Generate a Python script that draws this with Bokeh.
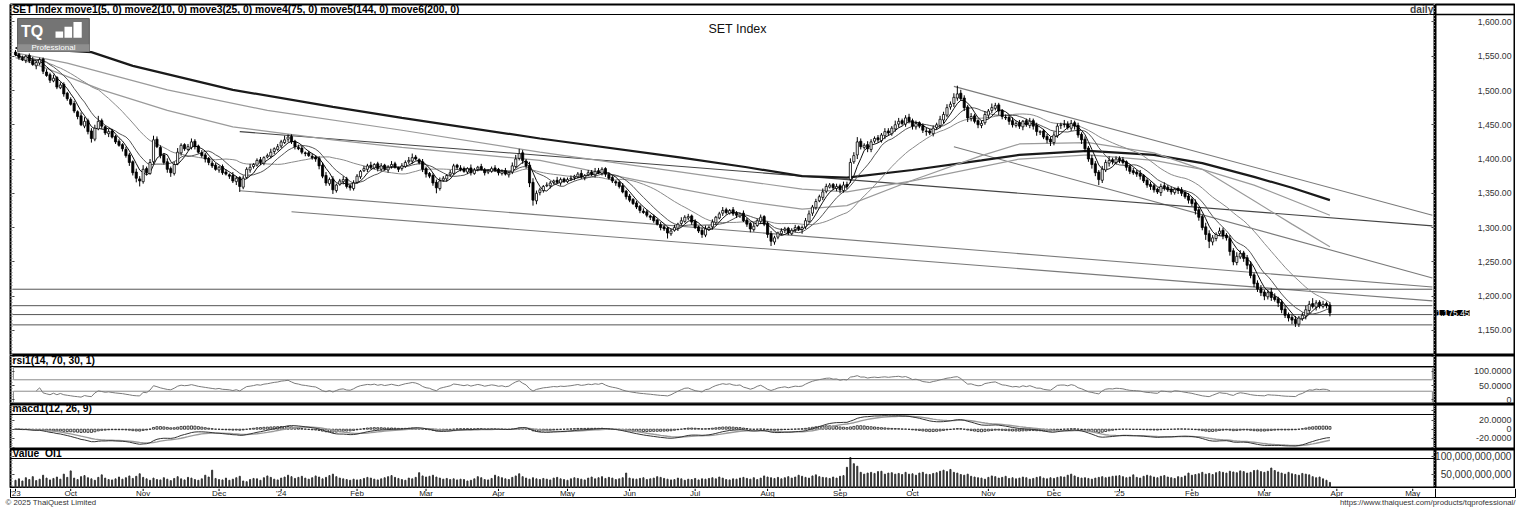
import numpy as np
import pandas as pd
from bokeh.plotting import figure
from bokeh.layouts import column, row
from bokeh.models import (Range1d, ColumnDataSource, SingleIntervalTicker,
                          LinearAxis, Span, Label, BoxAnnotation, CustomJSTickFormatter)
from bokeh.core.properties import value
from bokeh.embed import file_html
from bokeh.resources import INLINE

FONT = "Liberation Sans"

# ---------------- data ----------------
closes = [
    1552, 1548, 1545, 1550, 1543, 1538, 1541, 1545, 1528, 1522,
    1515, 1518, 1505, 1508, 1495, 1488, 1480, 1470, 1462, 1450,
    1455, 1440, 1430, 1445, 1455, 1448, 1438, 1440, 1432, 1425,
    1420, 1415, 1405, 1395, 1380, 1372, 1368, 1385, 1380, 1395,
    1428, 1418, 1405, 1395, 1385, 1380, 1392, 1410, 1420, 1415,
    1418, 1425, 1418, 1410, 1405, 1400, 1395, 1390, 1385, 1388,
    1380, 1378, 1375, 1368, 1372, 1360, 1372, 1385, 1388, 1392,
    1398, 1395, 1402, 1405, 1410, 1415, 1418, 1425, 1428, 1432,
    1425, 1418, 1415, 1410, 1408, 1405, 1402, 1400, 1390, 1375,
    1365, 1370, 1355, 1362, 1368, 1370, 1360, 1358, 1365, 1375,
    1382, 1386, 1390, 1388, 1392, 1386, 1390, 1385, 1388, 1392,
    1388, 1385, 1390, 1395, 1398, 1402, 1400, 1395, 1385, 1378,
    1375, 1365, 1358, 1368, 1372, 1376, 1380, 1390, 1388, 1385,
    1382, 1386, 1380, 1384, 1388, 1385, 1380, 1383, 1386, 1384,
    1380, 1382, 1378, 1380, 1390, 1400, 1408, 1398, 1390, 1365,
    1340, 1350, 1355, 1360, 1362, 1365, 1368, 1366, 1370, 1368,
    1370, 1372, 1375, 1378, 1374, 1376, 1380, 1378, 1382, 1380,
    1385, 1378, 1372, 1368, 1365, 1360, 1352, 1345, 1340, 1335,
    1330, 1325, 1322, 1318, 1315, 1310, 1305, 1300, 1298, 1292,
    1295, 1300, 1305, 1310, 1315, 1316, 1308, 1300, 1295, 1290,
    1298, 1300, 1308, 1315, 1320, 1325, 1322, 1325, 1320, 1318,
    1320, 1310, 1305, 1298, 1302, 1310, 1315, 1305, 1290, 1280,
    1285, 1292, 1295, 1298, 1292, 1296, 1300, 1298, 1300, 1310,
    1320, 1330, 1338, 1345, 1352, 1360, 1362, 1358, 1360, 1355,
    1362, 1360, 1395, 1405, 1425, 1418, 1420, 1415, 1425, 1430,
    1428, 1435, 1440, 1438, 1445, 1450, 1455, 1452, 1460, 1455,
    1448, 1452, 1448, 1442, 1440, 1438, 1445, 1450, 1458, 1465,
    1475, 1480, 1490, 1495, 1488, 1475, 1460, 1462, 1455, 1450,
    1452, 1465, 1470, 1475, 1478, 1470, 1462, 1460, 1455, 1450,
    1452, 1448, 1455, 1450, 1455, 1448, 1440, 1440, 1432, 1428,
    1425, 1435, 1448, 1450, 1450, 1446, 1452, 1448, 1435, 1428,
    1415, 1400, 1392, 1380, 1370, 1385, 1395, 1398, 1396, 1400,
    1398, 1395, 1388, 1382, 1380, 1378, 1375, 1368, 1362, 1360,
    1355, 1352, 1360, 1358, 1355, 1352, 1356, 1354, 1350, 1345,
    1340, 1335, 1325, 1315, 1300, 1290, 1280, 1285, 1290, 1295,
    1288, 1285, 1265, 1250, 1258, 1262, 1255, 1245, 1230, 1218,
    1210, 1205, 1200, 1205, 1198, 1195, 1190, 1180, 1172, 1168,
    1165, 1160, 1168, 1172, 1180, 1188, 1185, 1190, 1186, 1188,
    1186, 1175.45,
]
opens = [
    1556, 1553, 1547, 1544, 1551, 1544, 1536, 1540, 1546, 1527,
    1523, 1514, 1519, 1504, 1509, 1496, 1487, 1481, 1469, 1463,
    1448, 1456, 1441, 1429, 1444, 1456, 1447, 1437, 1441, 1433,
    1426, 1421, 1414, 1406, 1396, 1381, 1371, 1367, 1386, 1379,
    1396, 1429, 1417, 1406, 1396, 1386, 1379, 1393, 1409, 1421,
    1414, 1417, 1426, 1419, 1409, 1406, 1401, 1394, 1391, 1384,
    1389, 1381, 1377, 1376, 1367, 1373, 1359, 1373, 1384, 1389,
    1391, 1399, 1394, 1403, 1404, 1411, 1414, 1419, 1424, 1429,
    1433, 1426, 1417, 1416, 1409, 1409, 1404, 1403, 1401, 1391,
    1376, 1364, 1371, 1354, 1363, 1367, 1371, 1361, 1357, 1366,
    1374, 1383, 1385, 1391, 1387, 1393, 1385, 1391, 1384, 1389,
    1393, 1387, 1386, 1389, 1396, 1397, 1403, 1399, 1396, 1386,
    1379, 1376, 1366, 1357, 1369, 1371, 1377, 1379, 1391, 1387,
    1386, 1381, 1387, 1379, 1385, 1389, 1384, 1381, 1382, 1387,
    1385, 1379, 1383, 1377, 1381, 1389, 1401, 1409, 1397, 1391,
    1366, 1339, 1351, 1354, 1361, 1361, 1366, 1369, 1365, 1371,
    1367, 1371, 1373, 1374, 1379, 1373, 1377, 1381, 1377, 1383,
    1379, 1386, 1377, 1373, 1367, 1366, 1361, 1353, 1346, 1341,
    1336, 1331, 1324, 1323, 1317, 1316, 1311, 1304, 1301, 1299,
    1291, 1296, 1299, 1306, 1309, 1314, 1317, 1309, 1301, 1296,
    1289, 1297, 1301, 1307, 1314, 1321, 1326, 1321, 1326, 1321,
    1317, 1321, 1311, 1306, 1297, 1303, 1309, 1316, 1306, 1291,
    1279, 1286, 1291, 1296, 1299, 1291, 1297, 1301, 1297, 1301,
    1309, 1321, 1329, 1339, 1344, 1353, 1359, 1363, 1357, 1361,
    1354, 1363, 1370, 1396, 1406, 1426, 1417, 1421, 1414, 1426,
    1431, 1427, 1434, 1441, 1437, 1444, 1451, 1456, 1451, 1461,
    1456, 1447, 1453, 1449, 1441, 1441, 1437, 1446, 1449, 1457,
    1464, 1476, 1481, 1489, 1496, 1489, 1476, 1459, 1463, 1456,
    1449, 1453, 1464, 1471, 1474, 1479, 1471, 1461, 1461, 1456,
    1449, 1453, 1447, 1456, 1449, 1456, 1449, 1439, 1441, 1433,
    1429, 1424, 1434, 1449, 1451, 1451, 1445, 1453, 1449, 1436,
    1429, 1416, 1401, 1393, 1381, 1369, 1384, 1394, 1399, 1395,
    1401, 1399, 1396, 1389, 1383, 1381, 1379, 1376, 1369, 1363,
    1361, 1356, 1351, 1361, 1359, 1356, 1351, 1357, 1355, 1351,
    1346, 1341, 1336, 1326, 1316, 1301, 1291, 1279, 1284, 1291,
    1296, 1289, 1284, 1266, 1249, 1257, 1263, 1256, 1246, 1231,
    1219, 1211, 1206, 1199, 1206, 1199, 1196, 1191, 1181, 1173,
    1169, 1166, 1159, 1167, 1171, 1179, 1189, 1184, 1191, 1185,
    1189, 1187,
]
up_wick = [
    3, 2, 4, 2, 3, 5, 2, 3, 2, 4,   3, 5, 2, 4, 3, 2, 3, 4, 2, 5,
    6, 3, 4, 5, 8, 3, 2, 4, 3, 2,   3, 2, 4, 3, 2, 5, 4, 6, 3, 5,
    6, 4, 3, 2, 5, 3, 4, 6, 3, 2,   4, 5, 3, 2, 4, 3, 2, 4, 3, 2,
    3, 4, 2, 5, 3, 2, 4, 3, 5, 2,   3, 4, 2, 3, 5, 2, 4, 3, 6, 4,
    3, 2, 4, 3, 2, 3, 4, 2, 3, 4,   5, 3, 4, 2, 3, 5, 3, 2, 4, 3,
    2, 4, 3, 5, 2, 3, 4, 2, 3, 5,   3, 2, 4, 3, 5, 6, 3, 2, 4, 3,
    2, 3, 4, 5, 3, 2, 4, 3, 2, 4,   3, 2, 5, 3, 2, 4, 3, 2, 3, 4,
    2, 3, 4, 2, 5, 6, 7, 4, 3, 5,   6, 4, 3, 2, 4, 3, 2, 5, 3, 2,
    3, 4, 2, 3, 5, 2, 4, 3, 5, 4,   3, 2, 4, 3, 2, 3, 4, 2, 3, 2,
    3, 2, 4, 3, 2, 3, 2, 4, 3, 2,   3, 4, 2, 5, 3, 4, 2, 3, 2, 4,
    5, 3, 4, 2, 3, 5, 3, 2, 4, 3,   2, 4, 3, 2, 5, 3, 4, 2, 3, 4,
    3, 2, 4, 3, 2, 3, 4, 2, 3, 4,   5, 3, 4, 3, 5, 4, 3, 2, 4, 3,
    5, 4, 6, 5, 7, 4, 3, 5, 4, 3,   4, 3, 5, 4, 3, 6, 5, 3, 4, 5,
    3, 4, 2, 3, 5, 3, 4, 3, 5, 4,   5, 4, 6, 12, 5, 4, 3, 5, 3, 2,
    4, 5, 3, 6, 4, 3, 2, 4, 3, 5,   3, 4, 2, 3, 5, 3, 4, 2, 3, 4,
    3, 5, 4, 3, 6, 4, 5, 3, 4, 3,   4, 3, 5, 4, 3, 5, 4, 6, 3, 4,
    3, 4, 2, 3, 4, 3, 5, 2, 3, 4,   3, 2, 4, 5, 3, 4, 2, 3, 4, 3,
    4, 3, 5, 4, 3, 6, 5, 4, 3, 5,   4, 3, 5, 4, 6, 5, 3, 4, 5, 3,
    4, 5, 3, 4, 6, 5, 3, 4, 5, 3,   4, 5, 3, 4, 6, 5, 8, 4, 3, 5,
    3, 4,
]
low_wick = [
    2, 3, 2, 4, 3, 2, 5, 3, 4, 2,   4, 2, 3, 2, 4, 3, 2, 3, 4, 2,
    3, 4, 6, 3, 2, 4, 3, 5, 2, 3,   2, 4, 3, 5, 4, 6, 8, 3, 4, 2,
    3, 2, 4, 3, 5, 6, 3, 2, 4, 3,   2, 3, 4, 2, 3, 5, 4, 3, 2, 4,
    3, 2, 4, 3, 5, 8, 3, 2, 4, 3,   2, 4, 3, 2, 3, 4, 2, 3, 2, 4,
    3, 4, 2, 3, 4, 2, 3, 4, 5, 3,   4, 3, 6, 3, 2, 4, 3, 4, 3, 2,
    3, 2, 4, 3, 2, 4, 3, 2, 4, 3,   2, 4, 3, 2, 3, 4, 2, 3, 4, 5,
    3, 4, 8, 3, 2, 4, 3, 2, 4, 3,   2, 3, 4, 2, 3, 2, 4, 3, 2, 3,
    4, 3, 2, 4, 3, 2, 3, 5, 4, 6,   8, 5, 4, 3, 2, 4, 3, 2, 4, 3,
    2, 3, 4, 2, 3, 4, 2, 3, 4, 2,   3, 4, 2, 3, 4, 3, 2, 4, 3, 2,
    3, 4, 2, 3, 4, 3, 2, 4, 3, 8,   3, 2, 4, 3, 2, 3, 4, 2, 3, 5,
    3, 2, 4, 3, 2, 4, 3, 2, 3, 4,   3, 2, 4, 5, 3, 2, 4, 3, 5, 7,
    4, 3, 2, 4, 3, 2, 4, 3, 6, 3,   2, 4, 3, 2, 4, 3, 2, 3, 4, 5,
    3, 4, 5, 3, 6, 4, 3, 5, 4, 3,   4, 3, 5, 4, 3, 4, 5, 3, 4, 3,
    5, 4, 3, 4, 6, 3, 4, 3, 4, 5,   3, 4, 5, 4, 3, 5, 6, 4, 3, 5,
    4, 3, 5, 4, 3, 6, 4, 3, 5, 4,   3, 4, 5, 3, 4, 5, 6, 4, 3, 5,
    6, 4, 3, 5, 4, 3, 4, 5, 4, 6,   5, 4, 6, 5, 8, 4, 3, 5, 4, 3,
    4, 3, 5, 4, 3, 4, 5, 3, 4, 5,   4, 3, 5, 4, 3, 4, 3, 5, 4, 3,
    5, 4, 6, 5, 4, 8, 10, 5, 4, 3,  5, 4, 6, 5, 4, 3, 5, 6, 4, 5,
    4, 5, 6, 4, 5, 3, 6, 5, 4, 5,   6, 5, 4, 3, 5, 4, 3, 5, 4, 3,
    4, 5,
]
# traded value, billions of baht
value_bn = [
    34, 38, 32, 41, 36, 44, 33, 37, 48, 40,   35, 39, 43, 37, 51, 42, 60, 40, 36, 44,
    47, 41, 38, 34, 42, 49, 40, 36, 35, 38,   43, 37, 41, 46, 39, 45, 52, 42, 38, 34,
    40, 36, 35, 41, 37, 33, 39, 44, 38, 35,   42, 40, 36, 34, 38, 48, 43, 62, 39, 36,
    35, 40, 34, 37, 41, 45, 32, 30, 36, 39,   38, 34, 41, 46, 42, 37, 35, 40, 43, 48,
    44, 39, 42, 45, 40, 37, 41, 46, 43, 38,   42, 47, 51, 44, 40, 38, 36, 34, 37, 35,
    36, 39, 42, 40, 37, 35, 38, 41, 44, 47,   42, 39, 36, 34, 40, 38, 42, 55, 46, 43,
    45, 48, 43, 40, 37, 39, 36, 38, 35, 37,   36, 32, 34, 38, 44, 41, 36, 35, 39, 48,
    44, 41, 38, 36, 42, 46, 52, 44, 40, 37,   41, 38, 36, 39, 37, 35, 40, 42, 38, 36,
    34, 38, 41, 39, 37, 35, 40, 43, 38, 41,   44, 39, 42, 40, 36, 38, 41, 54, 40, 38,
    37, 39, 41, 36, 38, 40, 44, 42, 39, 37,   35, 36, 40, 38, 34, 37, 36, 39, 35, 38,
    37, 39, 41, 38, 43, 40, 36, 35, 38, 37,   40, 42, 39, 37, 41, 36, 40, 46, 43, 41,
    39, 42, 38, 41, 44, 40, 43, 48, 45, 42,   40, 46, 49, 44, 42, 41, 39, 43, 40, 45,
    47, 70, 97, 80, 73, 56, 51, 54, 56, 53,   58, 59, 51, 54, 55, 51, 53, 50, 56, 51,
    52, 48, 54, 56, 51, 50, 53, 55, 59, 62,   58, 64, 56, 54, 50, 48, 51, 45, 43, 41,
    40, 37, 42, 46, 44, 40, 42, 45, 39, 41,   38, 40, 43, 41, 37, 39, 42, 44, 40, 38,
    41, 39, 42, 44, 43, 48, 51, 46, 42, 40,   41, 39, 37, 40, 42, 44, 41, 43, 45, 46,
    47, 44, 41, 43, 49, 42, 40, 45, 48, 46,   43, 41, 45, 47, 43, 41, 39, 44, 42, 46,
    54, 48, 50, 52, 56, 51, 53, 50, 55, 58,   56, 54, 59, 57, 55, 60, 58, 54, 56, 61,
    62, 58, 56, 59, 68, 61, 57, 54, 51, 56,   52, 50, 48, 53, 51, 49, 44, 41, 43, 38,
    34, 28,
]
ma_periods = [5, 10, 25, 75, 144, 200]
# long moving averages (they need history before the window)
ma75_idx = [0, 5, 25, 44, 63, 92, 112, 152, 193, 212, 228, 241, 260, 280, 291, 311, 330, 344, 359, 370, 381]
ma75_val = [1548, 1540, 1501, 1471, 1447, 1428, 1417, 1398, 1356, 1338, 1327, 1332, 1369, 1405, 1422, 1424, 1409, 1385, 1339, 1305, 1272]
ma144_idx = [0, 15, 44, 73, 112, 152, 193, 228, 241, 260, 291, 311, 330, 344, 359, 381]
ma144_val = [1555, 1540, 1501, 1471, 1442, 1410, 1381, 1356, 1352, 1368, 1400, 1406, 1398, 1385, 1362, 1318]
ma200_idx = [0, 22, 34, 63, 92, 112, 152, 193, 212, 228, 241, 260, 280, 291, 311, 330, 344, 359, 370, 381]
ma200_val = [1562, 1556, 1536, 1501, 1476, 1460, 1430, 1402, 1388, 1375, 1373, 1384, 1398, 1406, 1412, 1406, 1394, 1374, 1358, 1340]
# drawn trend lines (start index, start price, end index, end price)
trend_x0 = [272, 272, 65, 65, 80]
trend_y0 = [1506, 1418, 1440, 1353.7, 1323]
trend_x1 = [410.7, 410.7, 410.7, 410.7, 410.7]
trend_y1 = [1318, 1226.5, 1302.5, 1213.3, 1193]
trend_col = ["#7a7a7a", "#7a7a7a", "#444444", "#7a7a7a", "#7a7a7a"]
h_levels = [1210, 1186, 1173, 1158]
month_idx = [0, 16, 37, 59, 77, 99, 119, 140, 160, 178, 197, 218, 239, 260, 282, 301, 320, 341, 362, 383, 405]
month_lbl = ["'23", "Oct", "Nov", "Dec", "'24", "Feb", "Mar", "Apr", "May", "Jun", "Jul", "Aug",
             "Sep", "Oct", "Nov", "Dec", "'25", "Feb", "Mar", "Apr", "May"]
price_ticks = [1150, 1200, 1250, 1300, 1350, 1400, 1450, 1500, 1550, 1600]
rsi_params = (14, 70, 30, 1)
rsi_ticks = [0, 50, 100]
rsi_tick_lbl = ["0", "50.0000", "100.0000"]
macd_params = (12, 26, 9)
macd_ticks = [-20, 0, 20]
macd_tick_lbl = ["-20.0000", "0", "20.0000"]
vol_ticks = [50e9, 100e9]
vol_tick_lbl = ["50,000,000,000", "100,000,000,000"]
footer_left = "\u00a9 2025 ThaiQuest Limited"
footer_right = "https://www.thaiquest.com/products/tqprofessional/"

n = len(closes)
assert len(opens) == n and len(up_wick) == n and len(low_wick) == n and len(value_bn) == n, \
    (n, len(opens), len(up_wick), len(low_wick), len(value_bn))

# ---------------- derived series ----------------
idx = np.arange(n)
c = np.array(closes, float)
o = np.array(opens, float)
body_top = np.maximum(o, c)
body_bot = np.minimum(o, c)
hi = body_top + np.array(up_wick)
lo = body_bot - np.array(low_wick)
s = pd.Series(c)
ma_short = {p: s.rolling(p, min_periods=1).mean().values for p in ma_periods[:3]}

delta = s.diff().fillna(0.0)
gain = delta.clip(lower=0)
loss = (-delta).clip(lower=0)
ag = gain.ewm(alpha=1.0 / rsi_params[0], adjust=True).mean()
al = loss.ewm(alpha=1.0 / rsi_params[0], adjust=True).mean()
rsi_all = (100 * ag / (ag + al)).values
RSI_START = 6
rsi_x = idx[RSI_START:]
rsi = rsi_all[RSI_START:]

ema_f = s.ewm(span=macd_params[0], adjust=False).mean()
ema_s = s.ewm(span=macd_params[1], adjust=False).mean()
macd = ema_f - ema_s
sig = macd.ewm(span=macd_params[2], adjust=False).mean()
hist = (macd - sig).values

# ---------------- layout helpers ----------------
FW = 1425
LW = 80
LB = 10
X0, X1 = -1.45, 411.6
xr = Range1d(X0, X1)
blank = CustomJSTickFormatter(code="return ''")


def panel(fh, yr, top=0):
    p = figure(frame_width=FW, frame_height=fh, x_range=xr, y_range=yr,
               x_axis_type=None, y_axis_type=None, output_backend="svg",
               toolbar_location=None, min_border_left=LB, min_border_right=0,
               min_border_top=top, min_border_bottom=0)
    p.outline_line_color = "black"
    p.outline_line_width = 2
    p.background_fill_color = "white"
    return p


def rulers(p, interval, minor):
    for side in ("left", "right"):
        ax = LinearAxis(ticker=SingleIntervalTicker(interval=interval, num_minor_ticks=minor),
                        formatter=blank, major_label_standoff=0,
                        major_tick_in=4, major_tick_out=0, minor_tick_in=2, minor_tick_out=0,
                        axis_line_color="black", major_tick_line_color="#444",
                        minor_tick_line_color="#888")
        p.add_layout(ax, side)


def lab_panel(fh, yr, top=0, outline=2):
    q = figure(frame_width=LW, frame_height=fh, x_range=Range1d(0, LW), y_range=yr,
               x_axis_type=None, y_axis_type=None, output_backend="svg",
               toolbar_location=None, min_border_left=0, min_border_right=0,
               min_border_top=top, min_border_bottom=0)
    q.outline_line_color = "black"
    q.outline_line_width = outline
    return q


def tick_text(q, ys, labels, size):
    q.text(x=[LW - 4] * len(ys), y=ys, text=labels, text_align="right", text_baseline="middle",
           text_font=value(FONT), text_font_size=size, text_color="#333333")


def header(p, y, text):
    p.add_layout(Label(x=-0.9, y=y, text=text, text_font=FONT, text_font_size="10.3px",
                       text_font_style="bold", text_baseline="middle", text_color="black"))


# ---------------- main price panel ----------------
P_TOP, P_BOT, P_HDR = 1625.5, 1113.3, 1610.9
yr_p = Range1d(P_BOT, P_TOP)
p = panel(351, yr_p, top=4)
rulers(p, 50, 10)

p.add_layout(Span(location=P_HDR, dimension="width", line_color="black", line_width=1))
header(p, 1618.2, "SET Index " + " ".join(f"move{k}({m}, 0)" for k, m in enumerate(ma_periods, 1)))
p.add_layout(Label(x=411.0, y=1618.2, text="daily", text_font=FONT, text_font_size="10.3px",
                   text_font_style="bold", text_align="right", text_baseline="middle"))
p.add_layout(Label(x=209.3, y=1589.1, text="SET Index", text_font=FONT, text_font_size="12.5px",
                   text_align="center", text_baseline="middle", text_color="#111111"))

# logo
p.add_layout(BoxAnnotation(left=0.6, right=21.4, bottom=1556.9, top=1605.1, fill_color="#747474",
                           fill_alpha=1.0, line_color="#5a5a5a", line_alpha=1.0))
p.add_layout(BoxAnnotation(left=0.6, right=21.4, bottom=1556.9, top=1567.5, fill_color="#8e8e8e",
                           fill_alpha=1.0, line_color=None))
p.add_layout(Label(x=1.6, y=1586, text="TQ", text_font=FONT, text_font_size="16px",
                   text_font_style="bold", text_color="white", text_baseline="middle"))
for l_, r_, t_ in ((11.6, 13.8, 1586), (14.2, 16.4, 1593), (16.8, 19.2, 1600)):
    p.add_layout(BoxAnnotation(left=l_, right=r_, bottom=1577, top=t_, fill_color="white",
                               fill_alpha=1.0, line_color=None))
p.add_layout(Label(x=11.0, y=1562.2, text="Professional", text_font=FONT, text_font_size="8px",
                   text_color="white", text_align="center", text_baseline="middle"))

# trend lines and levels
p.segment(x0=trend_x0, y0=trend_y0, x1=trend_x1, y1=trend_y1, line_color=trend_col, line_width=1.1)
p.segment(x0=[-0.9] * len(h_levels), y0=h_levels, x1=[410.7] * len(h_levels), y1=h_levels,
          line_color="#555555", line_width=1)

# moving averages
p.line(ma200_idx, ma200_val, line_color="#1a1a1a", line_width=2.2)
p.line(ma144_idx, ma144_val, line_color="#9a9a9a", line_width=1.2)
p.line(ma75_idx, ma75_val, line_color="#9a9a9a", line_width=1.2)
p.line(idx, ma_short[25], line_color="#8a8a8a", line_width=1)
p.line(idx, ma_short[10], line_color="#555555", line_width=1)
p.line(idx, ma_short[5], line_color="#111111", line_width=1)

# candles
src = ColumnDataSource(dict(x=idx, h=hi, l=lo, top=body_top, bot=body_bot,
                            fill=np.where(c >= o, "white", "black")))
p.segment(x0="x", y0="h", x1="x", y1="l", source=src, line_color="black", line_width=1)
p.vbar(x="x", top="top", bottom="bot", width=0.62, fill_color="fill", line_color="black",
       line_width=0.8, source=src)

q = lab_panel(351, yr_p, top=4)
q.add_layout(Span(location=P_HDR, dimension="width", line_color="black", line_width=1.5))
tick_text(q, price_ticks, [f"{t:,.2f}" for t in price_ticks], "8.7px")
q.add_layout(Label(x=1, y=closes[-1], text=f"{closes[-1]:,.2f}", text_font=FONT,
                   text_font_size="8.5px", text_color="white", background_fill_color="black",
                   text_baseline="middle"))

# ---------------- RSI panel ----------------
yr_r = Range1d(-16.4, 154.9)
pr = panel(49, yr_r)
rulers(pr, 50, 5)
pr.add_layout(Span(location=116.4, dimension="width", line_color="black", line_width=1))
header(pr, 136.0, "rsi1(" + ", ".join(str(v) for v in rsi_params) + ")")
pr.quad(left=[-0.6, -0.6], right=[410.7, 410.7], bottom=[rsi_params[1], -10], top=[113, rsi_params[2]],
        fill_color=None, line_color="#8c8c8c", line_width=1)
pr.line(rsi_x, rsi, line_color="#7a7a7a", line_width=1)
qr = lab_panel(49, yr_r)
tick_text(qr, rsi_ticks, rsi_tick_lbl, "9px")

# ---------------- MACD panel ----------------
yr_m = Range1d(-44.1, 53.7)
pm = panel(45, yr_m)
rulers(pm, 20, 4)
pm.add_layout(Span(location=32, dimension="width", line_color="black", line_width=1))
header(pm, 44.0, "macd1(" + ", ".join(str(v) for v in macd_params) + ")")
pm.vbar(x=idx, top=hist, bottom=0, width=0.6, fill_color="white", line_color="black", line_width=0.7)
pm.line(idx, sig.values, line_color="#9a9a9a", line_width=1.4)
pm.line(idx, macd.values, line_color="#333333", line_width=1)
qm = lab_panel(45, yr_m)
tick_text(qm, macd_ticks, macd_tick_lbl, "9px")

# ---------------- value panel ----------------
yr_v = Range1d(11.1e9, 119.4e9)
pv = panel(39, yr_v)
rulers(pv, 50e9, 5)
pv.add_layout(Span(location=94.4e9, dimension="width", line_color="black", line_width=1))
header(pv, 108.3e9, "Value_OI1")
pv.vbar(x=idx, top=np.array(value_bn, float) * 1e9, bottom=0, width=0.3, color="#333333")
qv = lab_panel(39, yr_v)
tick_text(qv, vol_ticks, vol_tick_lbl, "10.2px")

# ---------------- time axis + footer strip (same index scale, widened to full width) ----------------
TOTAL_W = LB + FW + LW + 3
ppu = FW / (X1 - X0)                      # pixels per trading day
bx0 = X0 - LB / ppu                       # index at the page's left edge
bx1 = bx0 + TOTAL_W / ppu                 # index at the page's right edge
SH = 19                                   # strip height in px (axis row 9, footer row 10)
pb = figure(frame_width=TOTAL_W, frame_height=SH, x_range=Range1d(bx0, bx1), y_range=Range1d(0, SH),
            x_axis_type=None, y_axis_type=None, output_backend="svg", toolbar_location=None,
            min_border_left=0, min_border_right=0, min_border_top=0, min_border_bottom=0)
pb.outline_line_color = None
X_LAB = X1 + LW / ppu
# axis row frame
pb.segment(x0=[X0, X0, X1, X_LAB], y0=[10, 10, 10, 10], x1=[X_LAB, X0, X1, X_LAB], y1=[10, SH, SH, SH],
           line_color="black", line_width=1)
pb.segment(x0=month_idx, y0=[SH] * len(month_idx), x1=month_idx, y1=[SH - 2.5] * len(month_idx),
           line_color="black", line_width=1)
pb.text(x=month_idx, y=[14.3] * len(month_idx), text=month_lbl, text_align="center",
        text_baseline="middle", text_font=value(FONT), text_font_size="8px", text_color="#222222")
# footer row
pb.text(x=[bx0 + 5 / ppu], y=[4.8], text=[footer_left], text_align="left",
        text_baseline="middle", text_font=value(FONT), text_font_size="7.8px", text_color="#333333")
pb.text(x=[bx1 - 3 / ppu], y=[4.8], text=[footer_right], text_align="right",
        text_baseline="middle", text_font=value(FONT), text_font_size="7.8px", text_color="#333333")

layout = column(row(p, q), row(pr, qr), row(pm, qm), row(pv, qv), pb)
open("out.html", "w").write(file_html(layout, INLINE))
